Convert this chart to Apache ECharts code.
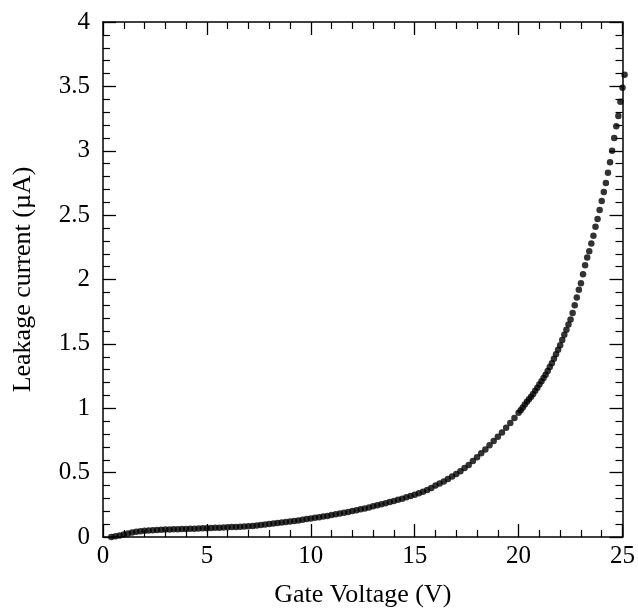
<!DOCTYPE html>
<html>
<head>
<meta charset="utf-8">
<script src="https://cdn.jsdelivr.net/npm/echarts@6/dist/echarts.min.js"></script>
<style>
  html, body { margin: 0; padding: 0; background: #fff; }
  #myChart { width: 638px; height: 613px; }
</style>
</head>
<body>
<div id="myChart"></div>
<script>
  // gate voltage (V)
  const gateVoltage = [
    0.4, 0.6, 0.8, 1.0, 1.2, 1.4, 1.6, 1.8, 2.0, 2.2, 2.4, 2.6, 2.8, 3.0, 3.2, 3.4, 3.6, 3.8, 4.0, 4.2,
    4.4, 4.6, 4.8, 5.0, 5.2, 5.4, 5.6, 5.8, 6.0, 6.2, 6.4, 6.6, 6.8, 7.0, 7.2, 7.4, 7.6, 7.8, 8.0, 8.2,
    8.4, 8.6, 8.8, 9.0, 9.2, 9.4, 9.6, 9.8, 10.0, 10.2, 10.4, 10.6, 10.8, 11.0, 11.2, 11.4, 11.6, 11.8, 12.0, 12.2,
    12.4, 12.6, 12.8, 13.0, 13.2, 13.4, 13.6, 13.8, 14.0, 14.2, 14.4, 14.6, 14.8, 15.0, 15.2, 15.4, 15.6, 15.8, 16.0, 16.2,
    16.4, 16.6, 16.8, 17.0, 17.2, 17.4, 17.6, 17.8, 18.0, 18.2, 18.4, 18.6, 18.8, 19.0, 19.2, 19.4, 19.6, 19.8, 20.0,
    20.1, 20.2, 20.3, 20.4, 20.5, 20.6, 20.7, 20.8, 20.9, 21.0, 21.1, 21.2, 21.3, 21.4, 21.5, 21.6, 21.7, 21.8, 21.9, 22.0,
    22.1, 22.2, 22.3, 22.4, 22.5, 22.6, 22.7, 22.8, 22.9, 23.0, 23.1, 23.2, 23.3, 23.4, 23.5, 23.6, 23.7, 23.8, 23.9, 24.0,
    24.1, 24.2, 24.3, 24.4, 24.5, 24.6, 24.7, 24.8, 24.9, 25.0, 25.1
  ];
  // leakage current (uA)
  const leakageCurrent = [
    0.000, 0.005, 0.012, 0.020, 0.028, 0.034, 0.040, 0.044, 0.048, 0.051, 0.053, 0.055, 0.057, 0.058, 0.059, 0.060, 0.061, 0.062, 0.063, 0.064,
    0.065, 0.066, 0.067, 0.068, 0.070, 0.071, 0.072, 0.073, 0.075, 0.077, 0.078, 0.080, 0.082, 0.084, 0.086, 0.089, 0.093, 0.097, 0.101, 0.105,
    0.109, 0.113, 0.117, 0.121, 0.125, 0.129, 0.134, 0.139, 0.144, 0.149, 0.154, 0.159, 0.164, 0.170, 0.176, 0.182, 0.188, 0.194, 0.201, 0.208,
    0.215, 0.222, 0.230, 0.238, 0.246, 0.254, 0.262, 0.271, 0.280, 0.289, 0.298, 0.308, 0.318, 0.328, 0.340, 0.352, 0.365, 0.380, 0.400, 0.415,
    0.432, 0.450, 0.470, 0.490, 0.510, 0.535, 0.560, 0.590, 0.620, 0.650, 0.680, 0.712, 0.745, 0.778, 0.812, 0.848, 0.885, 0.925, 0.965,
    0.985, 1.005, 1.030, 1.050, 1.070, 1.090, 1.110, 1.135, 1.160, 1.185, 1.210, 1.235, 1.260, 1.290, 1.320, 1.350, 1.385, 1.420, 1.455, 1.490,
    1.530, 1.570, 1.610, 1.650, 1.690, 1.740, 1.800, 1.860, 1.920, 1.970, 2.040, 2.110, 2.170, 2.220, 2.280, 2.340, 2.410, 2.470, 2.540, 2.610,
    2.680, 2.750, 2.830, 2.910, 3.000, 3.100, 3.190, 3.270, 3.380, 3.490, 3.590
  ];

  const font = 'Liberation Serif, Times New Roman, serif';
  const points = gateVoltage.map((v, i) => [v, leakageCurrent[i]]);

  function axisBase(extra) {
    return Object.assign({
      type: 'value',
      axisLine: { show: true, onZero: false, lineStyle: { color: '#000', width: 1.5 } },
      axisTick: { show: true, inside: true, length: 13, lineStyle: { color: '#000', width: 1.3 } },
      minorTick: { show: true, splitNumber: 5, length: 7, lineStyle: { color: '#000', width: 1.2 } },
      splitLine: { show: false },
      axisLabel: { show: false }
    }, extra);
  }

  let myChart = echarts.init(document.getElementById('myChart'));
  myChart.setOption({
    animation: false,
    backgroundColor: '#fff',
    grid: { left: 103, right: 13, top: 22, bottom: 74 },
    xAxis: [
      axisBase({
        position: 'bottom', min: 0, max: 25, interval: 5,
        axisLabel: { show: true, color: '#000', fontFamily: font, fontSize: 25, margin: 7 },
        name: 'Gate Voltage (V)', nameLocation: 'middle', nameGap: 45,
        nameTextStyle: { color: '#000', fontFamily: font, fontSize: 26 }
      }),
      axisBase({ position: 'top', min: 0, max: 25, interval: 5 })
    ],
    yAxis: [
      axisBase({
        position: 'left', min: 0, max: 4, interval: 0.5,
        axisLabel: { show: true, color: '#000', fontFamily: font, fontSize: 25, margin: 13 },
        name: 'Leakage current (\u00b5A)', nameLocation: 'middle', nameGap: 67,
        nameTextStyle: { color: '#000', fontFamily: font, fontSize: 26 }
      }),
      axisBase({ position: 'right', min: 0, max: 4, interval: 0.5 })
    ],
    series: [{
      type: 'scatter',
      data: points,
      clip: false,
      symbol: 'circle',
      symbolSize: 6.5,
      itemStyle: { color: '#000' }
    }]
  });
</script>
</body>
</html>
